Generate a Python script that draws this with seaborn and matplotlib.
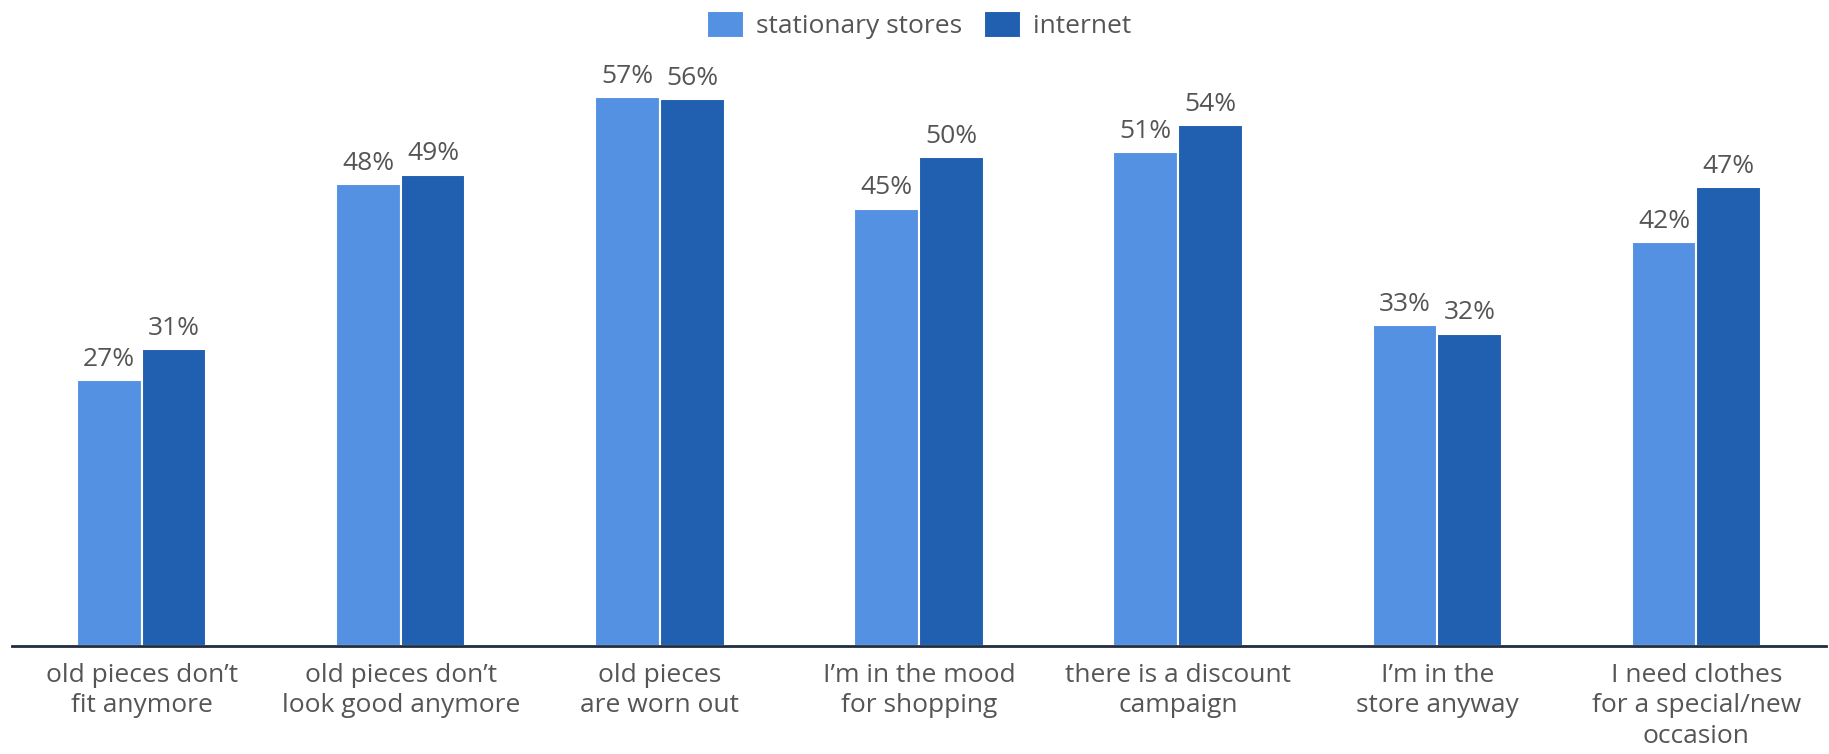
import matplotlib
matplotlib.use('Agg')
import matplotlib.pyplot as plt
import seaborn as sns
import pandas as pd

# reasons for buying clothes
categories = [
    'old pieces don\u2019t\nfit anymore',
    'old pieces don\u2019t\nlook good anymore',
    'old pieces\nare worn out',
    'I\u2019m in the mood\nfor shopping',
    'there is a discount\ncampaign',
    'I\u2019m in the\nstore anyway',
    'I need clothes\nfor a special/new\noccasion',
]
stationary = [27.4, 47.6, 56.6, 45.1, 50.9, 33.1, 41.6]
internet = [30.6, 48.6, 56.4, 50.4, 53.7, 32.2, 47.3]
series = ['stationary stores', 'internet']
colors = ['#5491e3', '#215fb0']

df = pd.DataFrame({
    'reason': categories * 2,
    'channel': [series[0]] * len(categories) + [series[1]] * len(categories),
    'share': stationary + internet,
})

sns.set_style('white')
plt.rcParams['font.family'] = ['Open Sans', 'DejaVu Sans']
text_color = '#555555'

fig = plt.figure(figsize=(18.29, 7.54), dpi=100)
ax = fig.add_axes([12 / 1829, 108 / 754, 1814 / 1829, 582 / 754])

sns.barplot(data=df, x='reason', y='share', hue='channel', order=categories,
            hue_order=series, palette=colors, width=0.5, saturation=1,
            edgecolor='white', linewidth=1.5, ax=ax)

for cont in ax.containers:
    ax.bar_label(cont, labels=[f'{v:.0f}%' for v in cont.datavalues],
                 padding=6, fontsize=19, color=text_color)

ax.set_xlim(-0.5, 6.5)
ax.set_ylim(0, 60)
ax.set_xlabel('')
ax.set_ylabel('')
ax.set_yticks([])
for s in ['top', 'right', 'left']:
    ax.spines[s].set_visible(False)
ax.spines['bottom'].set_color('#1f2d3d')
ax.spines['bottom'].set_linewidth(2)
ax.tick_params(axis='x', length=0, pad=12, labelsize=19, labelcolor=text_color)
for lbl in ax.get_xticklabels():
    lbl.set_linespacing(1.3)

ax.legend(loc='center', bbox_to_anchor=(0.5, 1.067), ncol=2, frameon=False,
          fontsize=19, labelcolor=text_color, handlelength=1.4, handleheight=1.25,
          handletextpad=0.45, columnspacing=0.85)

fig.savefig('out.png', dpi=100)
